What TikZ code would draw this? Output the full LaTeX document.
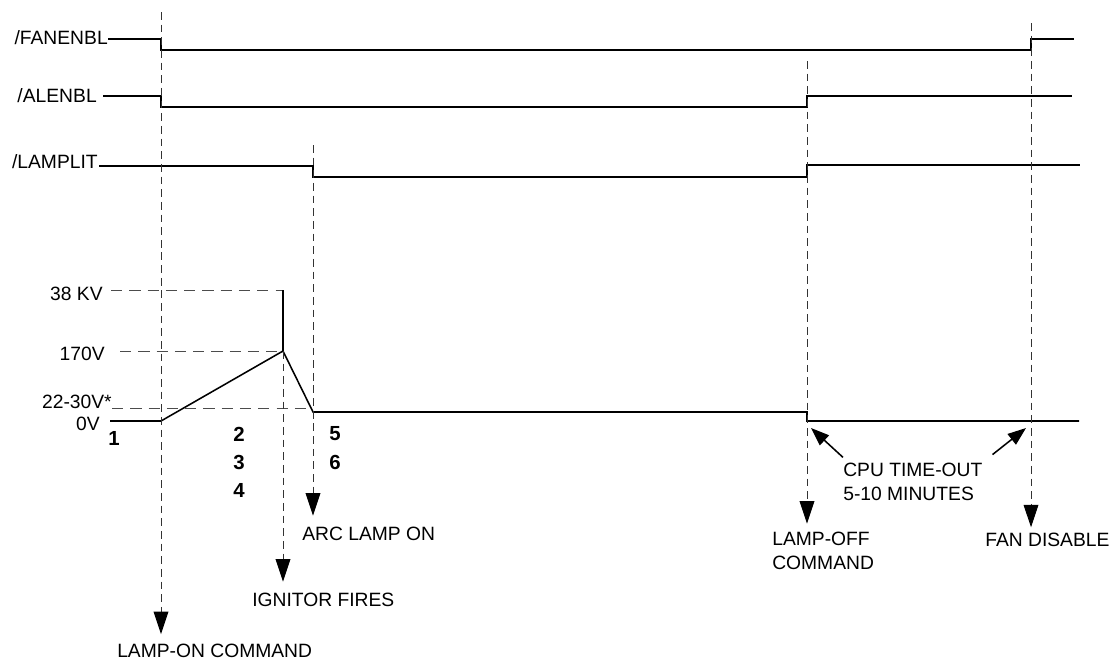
\documentclass[tikz,border=0pt]{standalone}
\usepackage{fontspec}
\setmainfont{Liberation Sans}
\usepackage{tikz}
\usetikzlibrary{arrows.meta}

\begin{document}
\begin{tikzpicture}[x=0.025cm, y=-0.025cm,
    lbl/.style={inner sep=0pt, font=\fontsize{13.7}{17}\selectfont, align=left},
    num/.style={inner sep=0pt, font=\fontsize{14.5}{17}\selectfont\bfseries},
    sig/.style={line width=1.3pt, line join=miter},
    wave/.style={line width=1.1pt},
    guide/.style={line width=0.7pt, black!80, dash pattern=on 5.5pt off 3.5pt},
    level/.style={line width=0.7pt, black!70, dash pattern=on 8pt off 5pt},
    cue/.style={guide, -{Triangle[length=16pt, width=10.5pt, color=black]}},
    poke/.style={line width=1.1pt, -{Triangle[length=13pt, width=9.5pt]}}]
    \useasboundingbox (0,0) rectangle (1116,660);

    % digital signals
    \node[lbl, anchor=east] (fanenbl) at (108,38) {/FANENBL};
    \node[lbl, anchor=east] (alenbl) at (97,96) {/ALENBL};
    \node[lbl, anchor=east] (lamplit) at (98,162) {/LAMPLIT};

    \draw[sig] (108,39) -- (161,39) -- (161,50) -- (1031,50) -- (1031,39) -- (1074,39);
    \draw[sig] (103,96) -- (161,96) -- (161,107) -- (807,107) -- (807,96) -- (1072,96);
    \draw[sig] (99,166) -- (313,166) -- (313,177) -- (807,177) -- (807,165) -- (1080,165);

    % lamp voltage
    \node[lbl, anchor=east] (kv) at (103,294) {38 KV};
    \node[lbl, anchor=east] (v170) at (105,354) {170V};
    \node[lbl, anchor=east] (v22) at (112,402) {22-30V*};
    \node[lbl, anchor=east] (v0) at (100,424) {0V};

    \coordinate (spike) at (283,290);
    \coordinate (peak) at (283,351);
    \coordinate (arcfoot) at (313,412);
    \draw[level] (kv.east) ++(8,-4) -- (spike);
    \draw[level] (v170.east) ++(15,-3) -- (peak);
    \draw[level] (v22.east) ++(0,6) -- (arcfoot |- 0,408);

    \draw[wave] (110,421) -- (161,421) -- (peak) -- (arcfoot) -- (807,412) -- (807,421) -- (1079,421);
    \draw[wave] (spike) -- (peak);

    \node[num] (n1) at (114,438) {1};
    \node[num] (n2) at (239,434) {2};
    \node[num] (n3) at (239,462) {3};
    \node[num] (n4) at (239,490) {4};
    \node[num] (n5) at (335,434) {5};
    \node[num] (n6) at (335,462) {6};

    % events
    \coordinate (ontop) at (161,12);
    \coordinate (arctop) at (313,145);
    \coordinate (offtop) at (807,61);
    \coordinate (fantop) at (1031,23);

    \node[lbl, anchor=west] (oncmd) at (117,651) {LAMP-ON COMMAND};
    \node[lbl, anchor=west] (ignite) at (252,600) {IGNITOR FIRES};
    \node[lbl, anchor=west] (arcon) at (302,534) {ARC LAMP ON};
    \node[lbl, anchor=north west] (offcmd) at (772,532) {LAMP-OFF\\COMMAND};
    \node[lbl, anchor=west] (fanoff) at (985,540) {FAN DISABLE};
    \node[lbl, anchor=north west] (cpu) at (843,463) {CPU TIME-OUT\\5-10 MINUTES};

    \draw[cue, shorten >=7pt] (ontop) -- (ontop |- oncmd.north);
    \draw[cue, shorten >=8pt] (peak) -- (peak |- ignite.north);
    \draw[cue, shorten >=8pt] (arctop) -- (arctop |- arcon.north);
    \draw[cue, shorten >=6pt] (offtop) -- (offtop |- offcmd.north);
    \draw[cue, shorten >=4pt] (fantop) -- (fantop |- fanoff.north);

    \draw[poke] ([yshift=4pt]cpu.north west) -- (811,428);
    \draw[poke] ([xshift=7pt, yshift=6pt]cpu.north east) -- (1026,428);
\end{tikzpicture}
\end{document}
